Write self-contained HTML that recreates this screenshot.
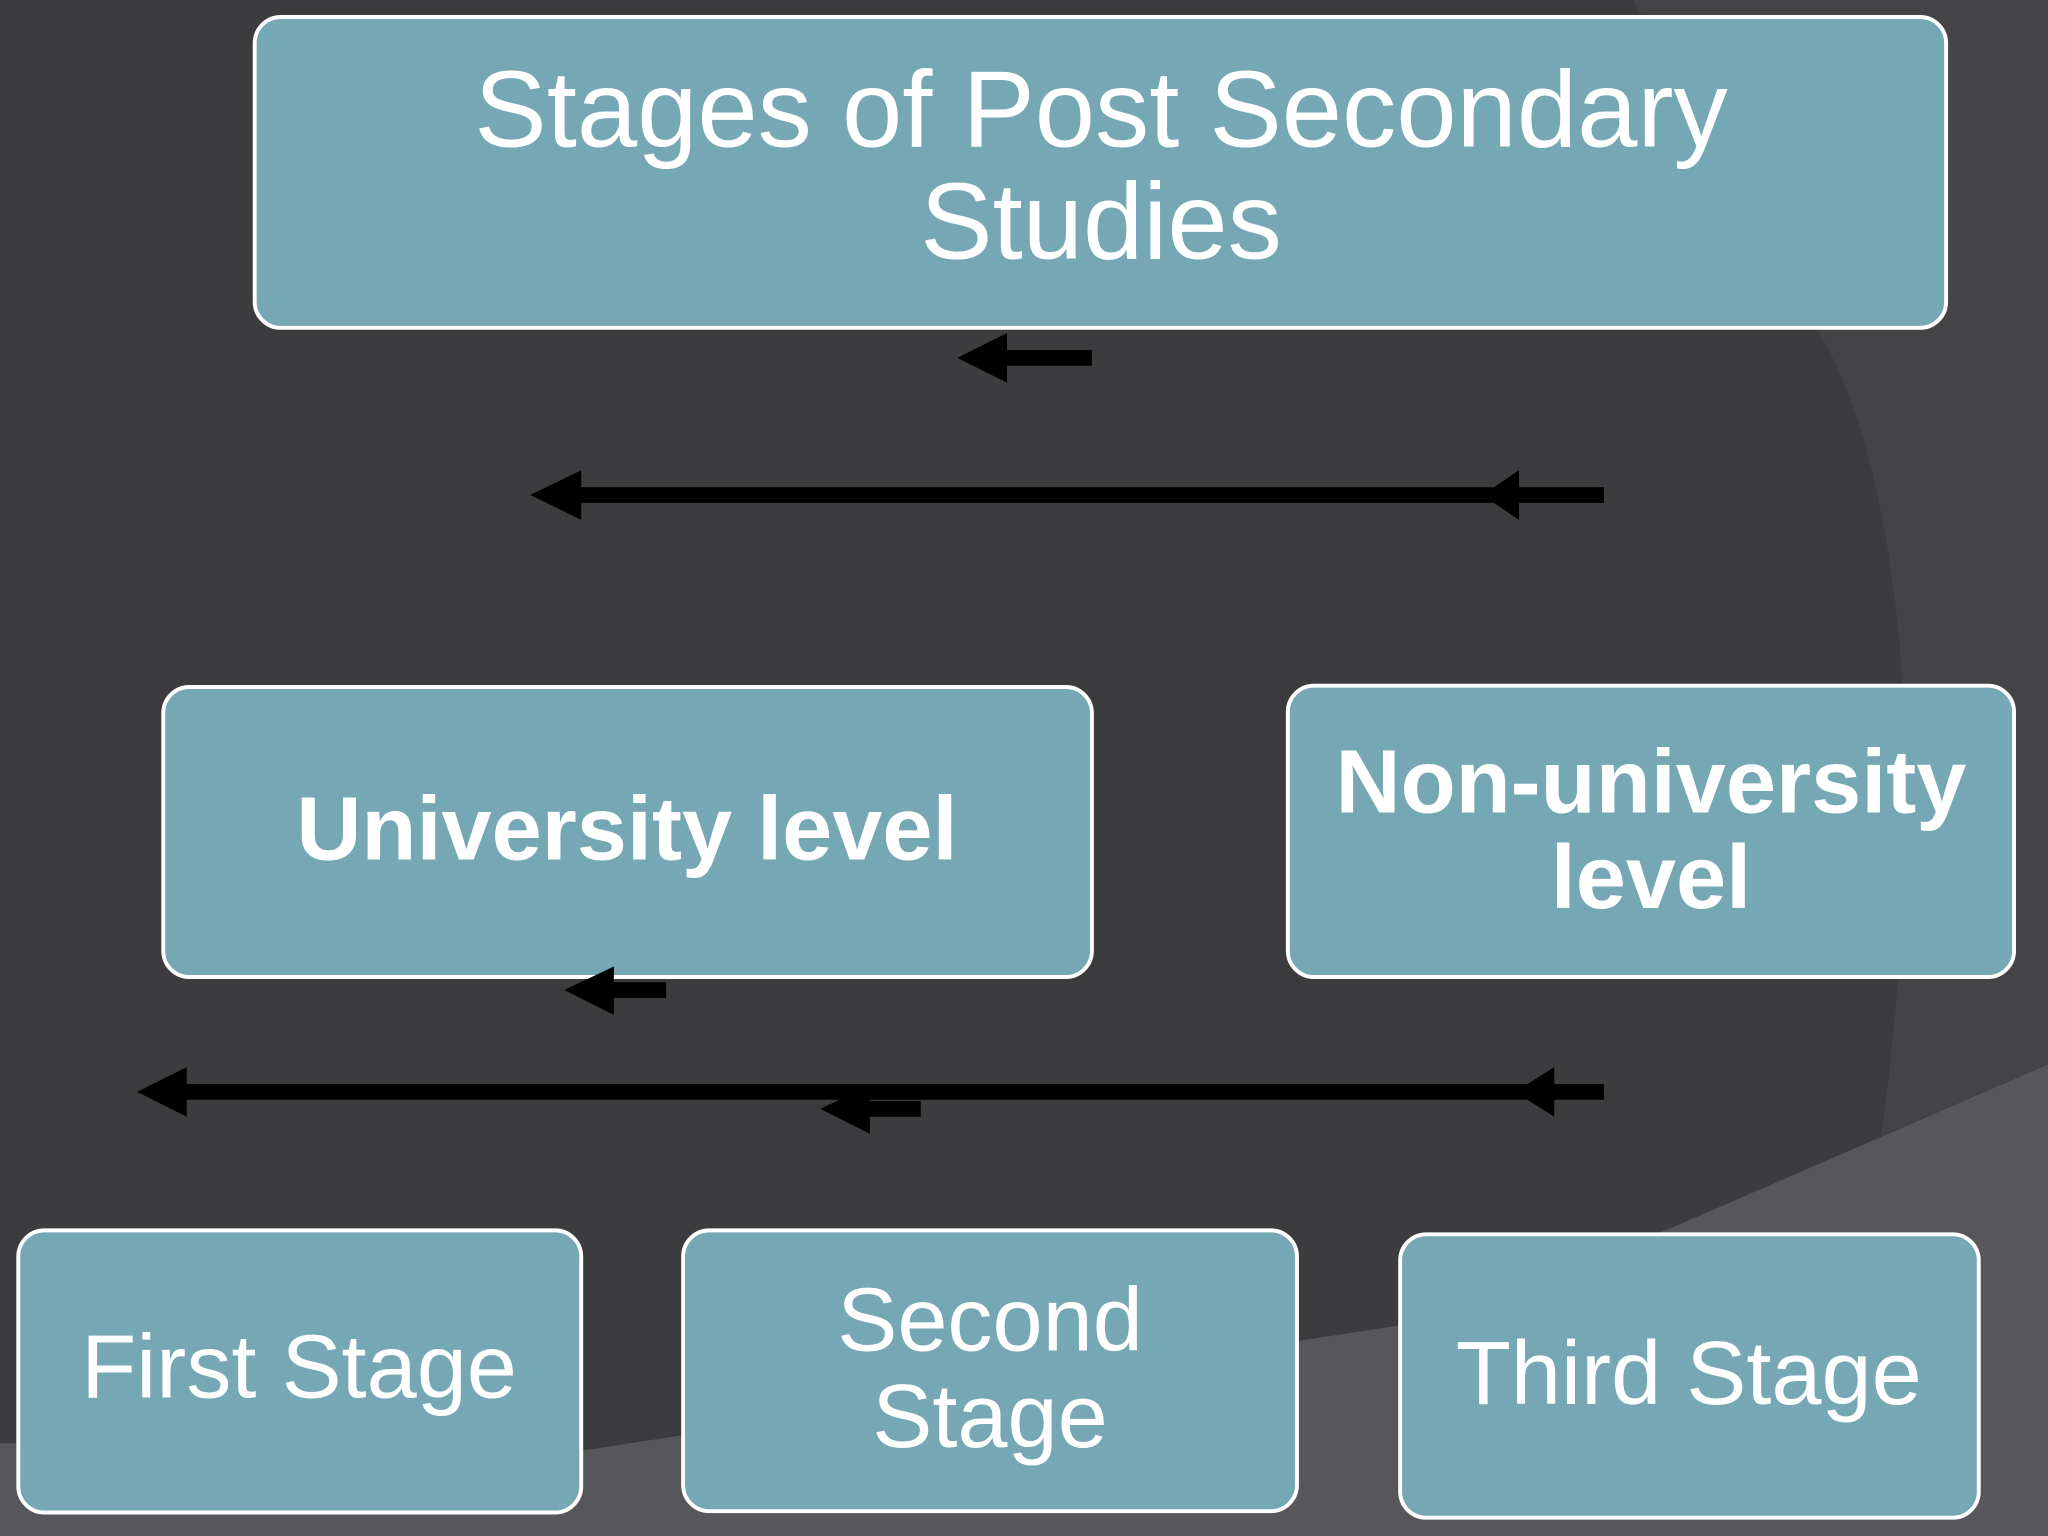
<!DOCTYPE html>
<html><head><meta charset="utf-8"><style>
html,body{margin:0;padding:0;background:#3c3b3d;}
svg{display:block;}
text{font-family:"Liberation Sans",Arial,sans-serif;fill:#fff;text-anchor:middle;}
</style></head><body>
<svg width="2048" height="1536" viewBox="0 0 1568 1176" xmlns="http://www.w3.org/2000/svg">
<rect width="1568" height="1176" fill="#3c3b3d"/>
<path d="M1250,0 L1568,0 L1568,815 L1440,870 Q1465,700 1455,500 Q1440,330 1390,250 Z" fill="#444346"/>
<path d="M0,1105 L450,1110 L1070,1015 L1280,940 L1568,815 L1568,1176 L0,1176 Z" fill="#57565a"/>
<g fill="#75a7b5" stroke="#fff" stroke-width="3">
<rect x="195" y="13" width="1295" height="238" rx="20"/>
<rect x="125" y="526" width="711" height="222" rx="20"/>
<rect x="986" y="525" width="556" height="223" rx="20"/>
<rect x="14" y="942" width="431" height="216" rx="20"/>
<rect x="523" y="942" width="470" height="215" rx="20"/>
<rect x="1072" y="945" width="443" height="217" rx="20"/>
</g>
<g fill="#000">
<rect x="765" y="268" width="71" height="12"/><polygon points="733,274 771,255 771,293"/>
<rect x="440" y="373" width="788" height="12"/><polygon points="406,379 445,360 445,398"/><polygon points="1135,379 1163,360 1163,398"/>
<rect x="465" y="752" width="45" height="12"/><polygon points="432,758 470,740 470,777"/>
<rect x="140" y="830" width="1088" height="12"/><polygon points="105,836 143,817 143,855"/><polygon points="1160,836 1190,817 1190,855"/>
<rect x="660" y="843" width="45" height="12"/><polygon points="628,849 666,831 666,868"/>
</g>
<text x="843" y="112" font-size="83">Stages of Post Secondary</text>
<text x="843" y="198" font-size="83">Studies</text>
<text x="480" y="658" font-size="69" font-weight="bold">University level</text>
<text x="1264" y="622" font-size="69" font-weight="bold">Non-university</text>
<text x="1264" y="695" font-size="69" font-weight="bold">level</text>
<text x="229" y="1070" font-size="69">First Stage</text>
<text x="758" y="1034" font-size="69">Second</text>
<text x="758" y="1108" font-size="69">Stage</text>
<text x="1293" y="1075" font-size="69">Third Stage</text>
</svg>
</body></html>
